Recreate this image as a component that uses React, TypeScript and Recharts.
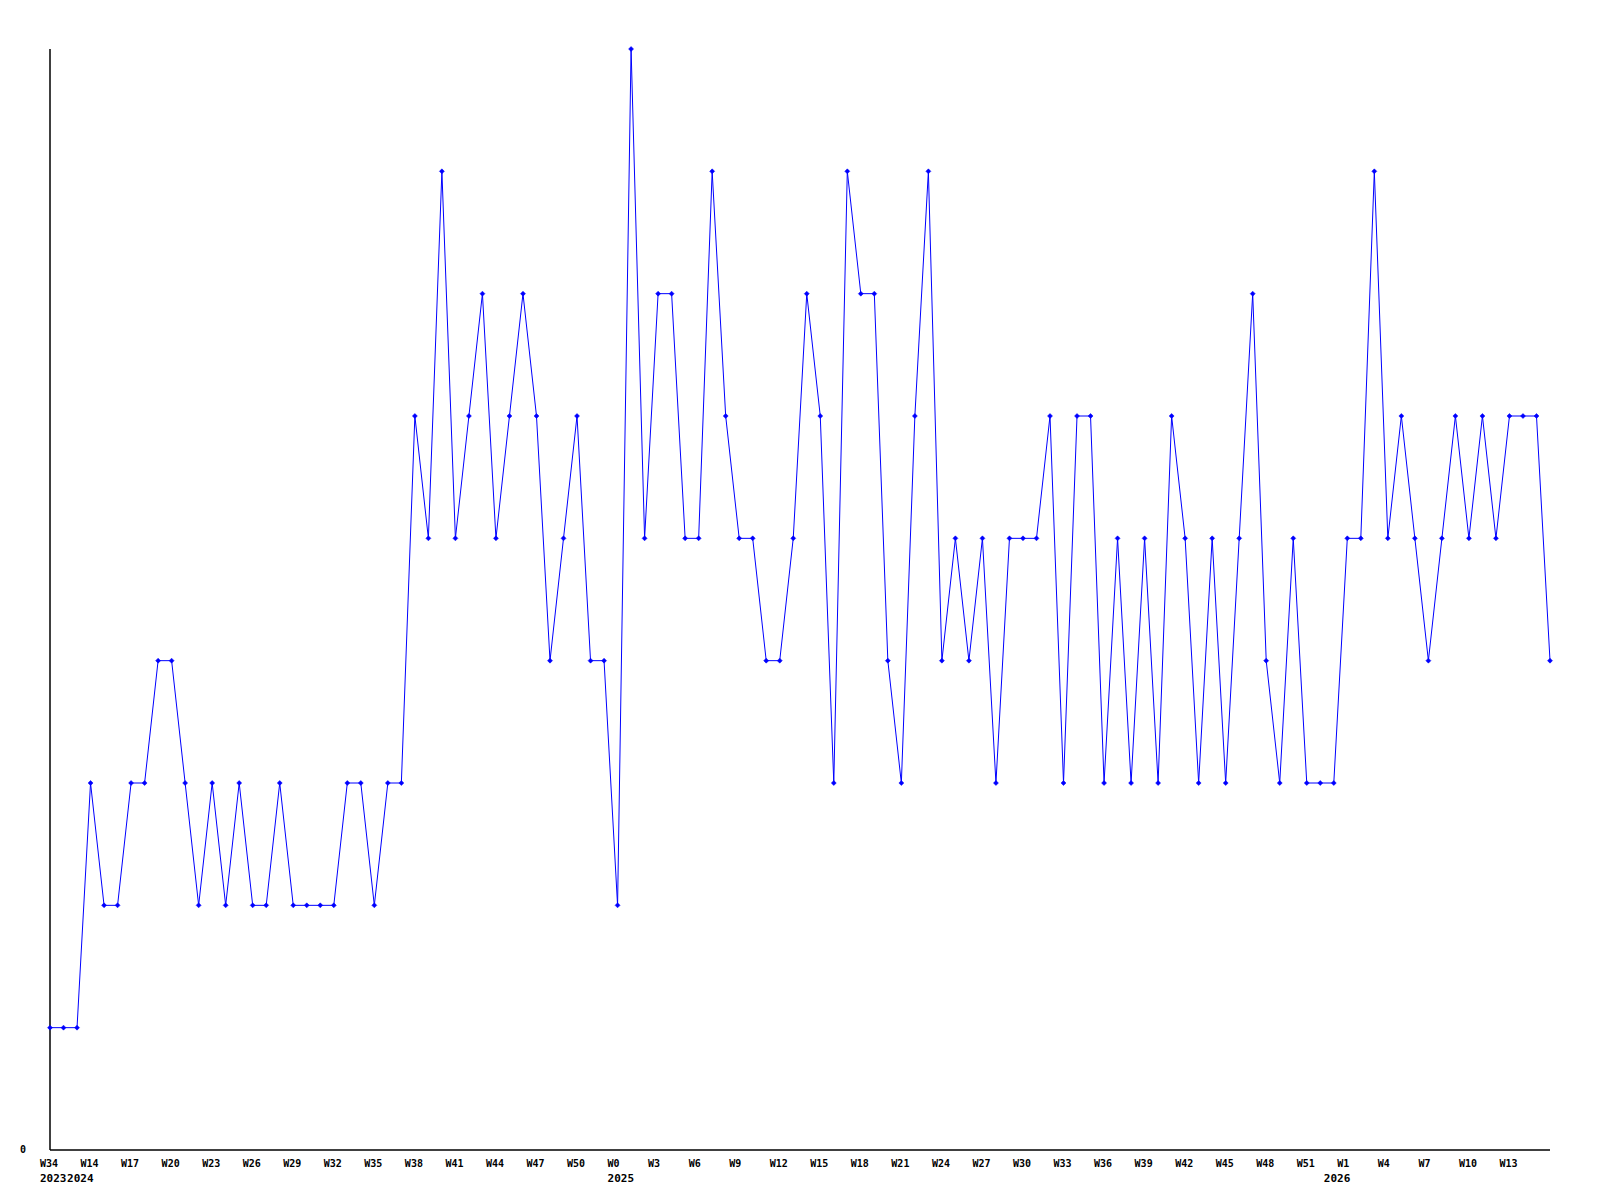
import { LineChart, Line, XAxis, YAxis } from "recharts";

// week label of each point (one point per week)
const weeks: string[] = [
  "W34", "W52", "W13",
  "W14", "W15", "W16", "W17", "W18", "W19", "W20", "W21", "W22", "W23", "W24", "W25", "W26",
  "W27", "W28", "W29", "W30", "W31", "W32", "W33", "W34", "W35", "W36", "W37", "W38", "W39",
  "W40", "W41", "W42", "W43", "W44", "W45", "W46", "W47", "W48", "W49", "W50", "W51", "W52",
  "W0", "W1", "W2", "W3", "W4", "W5", "W6", "W7", "W8", "W9", "W10", "W11", "W12", "W13",
  "W14", "W15", "W16", "W17", "W18", "W19", "W20", "W21", "W22", "W23", "W24", "W25", "W26",
  "W27", "W28", "W29", "W30", "W31", "W32", "W33", "W34", "W35", "W36", "W37", "W38", "W39",
  "W40", "W41", "W42", "W43", "W44", "W45", "W46", "W47", "W48", "W49", "W50", "W51", "W52",
  "W0", "W1", "W2", "W3", "W4", "W5", "W6", "W7", "W8", "W9", "W10", "W11", "W12", "W13",
  "W14", "W15", "W16",
];

// week labels shown on the axis (every third point, last three unlabelled)
const labelledTicks: number[] = [
  0, 3, 6, 9, 12, 15, 18, 21, 24, 27, 30, 33, 36, 39, 42, 45, 48, 51, 54, 57, 60, 63, 66,
  69, 72, 75, 78, 81, 84, 87, 90, 93, 96, 99, 102, 105, 108,
];

// year labels, placed on the first point of each year
const yearStarts: { index: number; year: string }[] = [
  { index: 0, year: "2023" },
  { index: 2, year: "2024" },
  { index: 42, year: "2025" },
  { index: 95, year: "2026" },
];

const values: number[] = [
  1, 1, 1, 3, 2, 2, 3, 3, 4, 4, 3, 2, 3, 2, 3, 2, 2, 3, 2, 2, 2, 2, 3, 3, 2, 3, 3, 6,
  5, 8, 5, 6, 7, 5, 6, 7, 6, 4, 5, 6, 4, 4, 2, 9, 5, 7, 7, 5, 5, 8, 6, 5, 5, 4, 4, 5,
  7, 6, 3, 8, 7, 7, 4, 3, 6, 8, 4, 5, 4, 5, 3, 5, 5, 5, 6, 3, 6, 6, 3, 5, 3, 5, 3, 6,
  5, 3, 5, 3, 5, 7, 4, 3, 5, 3, 3, 3, 5, 5, 8, 5, 6, 5, 4, 5, 6, 5, 6, 5, 6, 6, 6, 4,
];

const data = values.map((v, i) => ({ i, week: weeks[i], v }));
const allTicks = data.map((d) => d.i);

const FONT = "'DejaVu Sans Mono', monospace";
const BLUE = "#0000ff";

function WeekTick(props: any) {
  const { x, y, payload } = props;
  const idx = payload.value as number;
  const yr = yearStarts.find((s) => s.index === idx);
  return (
    <g>
      {labelledTicks.includes(idx) && (
        <text x={x - 10} y={y + 9} fontFamily={FONT} fontWeight="bold" fontSize={10} fill="#000">
          {weeks[idx]}
        </text>
      )}
      {yr && (
        <text x={x - 10} y={y + 24} fontFamily={FONT} fontWeight="bold" fontSize={11} fill="#000">
          {yr.year}
        </text>
      )}
    </g>
  );
}

function ZeroTick(props: any) {
  const { y, payload } = props;
  return (
    <text x={20} y={y + 3} fontFamily={FONT} fontWeight="bold" fontSize={10} fill="#000">
      {payload.value}
    </text>
  );
}

function Marker(props: any) {
  const { cx, cy } = props;
  if (cx == null || cy == null) return null;
  return (
    <path
      d={`M${cx - 2.5},${cy} L${cx},${cy - 2.5} L${cx + 2.5},${cy} L${cx},${cy + 2.5} Z`}
      fill={BLUE}
      stroke={BLUE}
      strokeWidth={0.5}
    />
  );
}

export default function App() {
  return (
    <div style={{ position: "absolute", left: 0, top: 0, background: "#fff" }}>
      <LineChart width={1600} height={1200} data={data} margin={{ top: 49, right: 50, bottom: 0, left: 0 }}>
        <XAxis
          dataKey="i"
          type="number"
          domain={[0, 111]}
          ticks={allTicks}
          interval={0}
          tick={<WeekTick />}
          tickLine={false}
          axisLine={{ stroke: "#000", strokeWidth: 1.5 }}
          height={50}
        />
        <YAxis
          type="number"
          domain={[0, 9]}
          ticks={[0]}
          tick={<ZeroTick />}
          tickLine={false}
          axisLine={{ stroke: "#000", strokeWidth: 1.5 }}
          width={50}
        />
        <Line
          dataKey="v"
          type="linear"
          stroke={BLUE}
          strokeWidth={1}
          dot={<Marker />}
          activeDot={false}
          isAnimationActive={false}
        />
      </LineChart>
    </div>
  );
}
